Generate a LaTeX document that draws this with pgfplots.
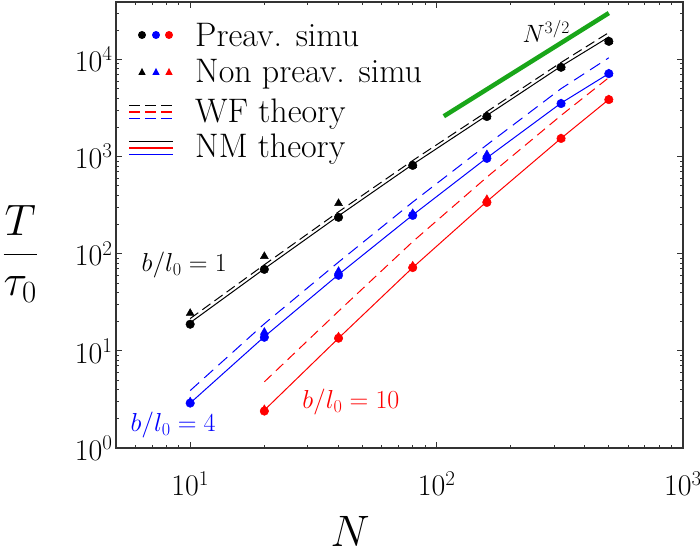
\RequirePackage{fix-cm}
\documentclass[border=0pt]{standalone}
\usepackage{pgfplots}
\pgfplotsset{compat=1.18}
\definecolor{mygreen}{rgb}{0.1,0.65,0.1}
\begin{document}
\begin{tikzpicture}
\begin{axis}[
  xmode=log, ymode=log,
  scale only axis, width=567pt, height=446pt,
  xmin=5, xmax=1000, ymin=1, ymax=3.9e4,
  axis line style={line width=1.2pt, black!80},
  every tick/.style={line width=0.9pt, black!80},
  major tick length=6pt, minor tick length=3.5pt,
  tick label style={font=\fontsize{30}{36}\selectfont},
  xticklabel style={yshift=-20pt},
  xlabel={$N$}, ylabel={$\displaystyle\frac{T}{\tau_0}$},
  label style={font=\fontsize{44}{50}\selectfont, inner sep=0pt},
  xlabel style={at={(axis description cs:0.413,-0.188)}, anchor=center},
  ylabel style={at={(axis description cs:-0.169,0.435)}, anchor=center, rotate=-90},
]
% N^{3/2} guide
\addplot[mygreen, line width=4.5pt] coordinates {(107,2600) (500,30000)};

% WF theory (dashed)
\addplot[black, line width=1pt, dash pattern=on 10pt off 5pt] coordinates {
(10,21.5) (20,77) (40,270) (80,910) (160,2900) (320,9300) (500,18900)};
\addplot[blue, line width=1pt, dash pattern=on 12pt off 7pt] coordinates {
(10,3.9) (20,19) (40,82) (80,340) (160,1320) (320,5000) (500,10400)};
\addplot[red, line width=1pt, dash pattern=on 10pt off 6pt] coordinates {
(20,4.8) (40,25.6) (80,133) (160,614) (320,2650) (500,6500)};

% NM theory (solid)
\addplot[black, line width=1pt] coordinates {
(10,19.5) (20,70) (40,245) (80,830) (160,2650) (320,8500) (500,17000)};
\addplot[blue, line width=1pt] coordinates {
(10,2.9) (20,14) (40,61) (80,250) (160,970) (320,3550) (500,7150)};
\addplot[red, line width=1pt] coordinates {
(20,2.45) (40,13.5) (80,72) (160,345) (320,1540) (500,3870)};

% Non preav. simu (triangles)
\addplot[only marks, mark=triangle*, mark size=4.6pt, black] coordinates {
(10,24.4) (20,94) (40,330) (80,811) (160,2583) (320,8300) (500,15350)};
\addplot[only marks, mark=triangle*, mark size=4.6pt, blue] coordinates {
(10,3.0) (20,15.6) (40,66) (80,260) (160,1050) (320,3513) (500,7140)};
\addplot[only marks, mark=triangle*, mark size=4.6pt, red] coordinates {
(20,2.5) (40,14) (80,75) (160,363) (320,1536) (500,3860)};

% Preav. simu (circles)
\addplot[only marks, mark=*, mark size=4.3pt, black] coordinates {
(10,18.8) (20,69) (40,237) (80,811) (160,2583) (320,8300) (500,15350)};
\addplot[only marks, mark=*, mark size=4.3pt, blue] coordinates {
(10,2.9) (20,13.8) (40,60) (80,248) (160,958) (320,3513) (500,7140)};
\addplot[only marks, mark=*, mark size=4.3pt, red] coordinates {
(20,2.4) (40,13.5) (80,72) (160,337) (320,1536) (500,3860)};

% annotations
\node[font=\fontsize{25}{30}\selectfont, anchor=base west, inner sep=0pt] at (axis cs:222.8,14840) {$N^{3/2}$};
\node[font=\fontsize{26}{30}\selectfont] at (axis cs:9.46,75.9) {$b/l_0=1$};
\node[font=\fontsize{26}{30}\selectfont, blue] at (axis cs:8.53,1.72) {$b/l_0=4$};
\node[font=\fontsize{26}{30}\selectfont, red] at (axis cs:44.9,2.97) {$b/l_0=10$};
\end{axis}
% legend (axis lower-left corner at origin; units in pt)
\begin{scope}[x=1pt, y=1pt]
  % Preav. simu
  \fill[black] (26,413) circle (4);
  \fill[blue] (40,413) circle (4);
  \fill[red] (53,413) circle (4);
  \node[anchor=base west, inner sep=0pt, font=\fontsize{34}{40}\selectfont] at (79,401) {Preav. simu};
  % Non preav. simu
  \fill[black] (22.3,373) -- (29.7,373) -- (26,380) -- cycle;
  \fill[blue] (36.3,373) -- (43.7,373) -- (40,380) -- cycle;
  \fill[red] (49.3,373) -- (56.7,373) -- (53,380) -- cycle;
  \node[anchor=base west, inner sep=0pt, font=\fontsize{34}{40}\selectfont] at (79,365) {Non preav. simu};
  % WF theory
  \draw[black, line width=1.3pt, dash pattern=on 11pt off 5pt] (13,342.7) -- (57,342.7);
  \draw[red, line width=1.3pt, dash pattern=on 11pt off 5pt] (13,336) -- (57,336);
  \draw[blue, line width=1.3pt, dash pattern=on 11pt off 5pt] (13,329.3) -- (57,329.3);
  \node[anchor=base west, inner sep=0pt, font=\fontsize{34}{40}\selectfont] at (79,325) {WF theory};
  % NM theory
  \draw[black, line width=1.3pt] (13,306.7) -- (57,306.7);
  \draw[red, line width=1.3pt] (13,300) -- (57,300);
  \draw[blue, line width=1.3pt] (13,293.3) -- (57,293.3);
  \node[anchor=base west, inner sep=0pt, font=\fontsize{34}{40}\selectfont] at (79,290) {NM theory};
\end{scope}
\pgfresetboundingbox
\path[use as bounding box] (-116pt,-106pt) rectangle (584pt,448pt);
\end{tikzpicture}
\end{document}
